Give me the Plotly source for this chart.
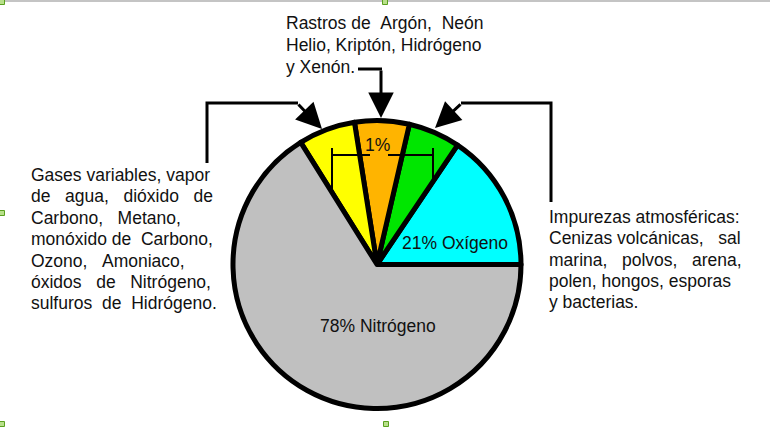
import plotly.graph_objects as go

W, H = 771, 427
NB = "\u00a0"

# ---- data (slice sizes as drawn, in degrees of the circle) ----
slice_names = ["Oxígeno", "Impurezas atmosféricas", "Rastros", "Gases variables", "Nitrógeno"]
slice_angles = [56, 21, 22, 23, 238]
slice_colors = ["#00FFFF", "#00E600", "#FFB400", "#FFFF00", "#C0C0C0"]

inside_labels = ["21% Oxígeno", "78% Nitrógeno", "1%"]

left_lines = [
    "Gases variables, vapor",
    "de" + NB * 3 + "agua," + NB * 3 + "dióxido" + NB * 3 + "de",
    "Carbono," + NB * 3 + "Metano,",
    "monóxido de" + NB * 2 + "Carbono,",
    "Ozono," + NB * 3 + "Amoniaco,",
    "óxidos" + NB * 3 + "de" + NB * 3 + "Nitrógeno,",
    "sulfuros" + NB * 2 + "de" + NB * 2 + "Hidrógeno.",
]
right_lines = [
    "Impurezas atmosféricas:",
    "Cenizas volcánicas," + NB * 3 + "sal",
    "marina," + NB * 3 + "polvos," + NB * 3 + "arena,",
    "polen, hongos, esporas",
    "y bacterias.",
]
top_lines = [
    "Rastros de" + NB * 2 + "Argón," + NB * 2 + "Neón",
    "Helio, Kriptón, Hidrógeno",
    "y Xenón.",
]

FONT = "Liberation Sans, Arial, sans-serif"
FS = 17.5
TC = "#111111"

# pie geometry (pixels)
cx, cy, r = 377, 264.5, 144

fig = go.Figure()
fig.add_trace(go.Pie(
    labels=slice_names,
    values=slice_angles,
    sort=False,
    direction="counterclockwise",
    rotation=90 - slice_angles[0],
    textinfo="none",
    hoverinfo="label",
    marker=dict(colors=slice_colors, line=dict(color="black", width=5)),
    domain=dict(x=[(cx - r) / W, (cx + r) / W], y=[1 - (cy + r) / H, 1 - (cy - r) / H]),
    showlegend=False,
))

annotations = []

def txt(x, y, s, anchor="left"):
    annotations.append(dict(x=x, y=y, xref="x", yref="y", text=s, showarrow=False,
                            xanchor=anchor, yanchor="middle", borderpad=0, borderwidth=0,
                            font=dict(family=FONT, size=FS, color=TC)))

for i, s in enumerate(left_lines):
    txt(31, 175 + 21.4 * i, s)
for i, s in enumerate(right_lines):
    txt(549, 217 + 21.3 * i, s)
for i, s in enumerate(top_lines):
    txt(286, 23 + 22 * i, s)

txt(455, 243, inside_labels[0], "center")
txt(378, 326, inside_labels[1], "center")
txt(377, 145, inside_labels[2], "center")

def arrow(tx, ty, x, y):
    annotations.append(dict(x=x, y=y, ax=tx, ay=ty, xref="x", yref="y", axref="x", ayref="y",
                            text="", showarrow=True, arrowhead=2, arrowsize=1.7,
                            arrowwidth=3, arrowcolor="black", standoff=0, startstandoff=0))

arrow(297, 103, 322, 129)
arrow(381, 69, 381, 118)
arrow(462, 103, 435, 128)

shapes = []

def path(d, w=3, color="black"):
    shapes.append(dict(type="path", path=d, xref="x", yref="y",
                       line=dict(color=color, width=w), layer="above"))

path("M207,163 L207,103 L298,103")
path("M358,69 L382,69")
path("M461,103 L551,103 L551,202")
# bracket
path("M332,148 L332,190", 2)
path("M433,148 L433,181", 2)
path("M332,155 L370,155", 2)
path("M388,155 L433,155", 2)

# top page edge line and selection handles
shapes.append(dict(type="line", x0=0, x1=770, y0=1, y1=1, xref="x", yref="y",
                   line=dict(color="#c4c4c4", width=2)))
for hx, hy in [(2, 2), (385, 2), (2, 213), (2, 424), (386, 424)]:
    shapes.append(dict(type="rect", x0=hx - 2.5, x1=hx + 2.5, y0=hy - 2.5, y1=hy + 2.5,
                       xref="x", yref="y", fillcolor="#b8e08a",
                       line=dict(color="#5aa020", width=1)))

fig.update_layout(
    width=W, height=H,
    margin=dict(l=0, r=0, t=0, b=0),
    paper_bgcolor="white", plot_bgcolor="white",
    xaxis=dict(range=[0, W], visible=False, fixedrange=True),
    yaxis=dict(range=[H, 0], visible=False, fixedrange=True),
    annotations=annotations,
    shapes=shapes,
)

fig.write_html("out.html", config={"displayModeBar": False},
               post_script="document.body.style.margin='0';document.body.style.overflow='hidden';")
